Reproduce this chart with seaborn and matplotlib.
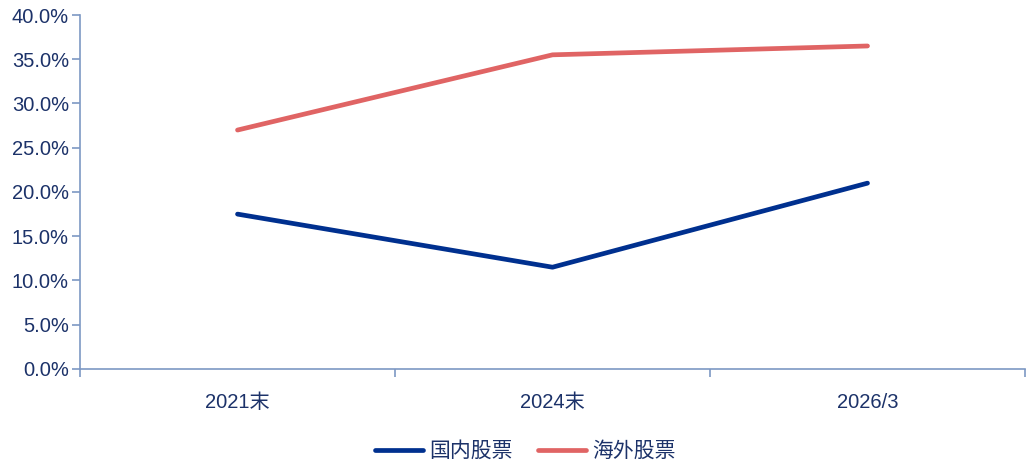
import matplotlib
matplotlib.use("Agg")
import matplotlib.pyplot as plt
import seaborn as sns
import pandas as pd
from matplotlib.ticker import FixedLocator, PercentFormatter

# data
periods = ["2021末", "2024末", "2026/3"]
domestic = [17.5, 11.5, 21.0]
overseas = [27.0, 35.5, 36.5]
series_names = ["国内股票", "海外股票"]

df = pd.DataFrame({
    "period": periods * 2,
    "value": domestic + overseas,
    "series": [series_names[0]] * 3 + [series_names[1]] * 3,
})
df["x"] = df["period"].map({p: i for i, p in enumerate(periods)})

sns.set_style("white")
plt.rcParams["font.family"] = ["Liberation Sans", "Noto Sans CJK SC", "DejaVu Sans"]

text_color = "#1c3269"
axis_color = "#7d98c4"
palette = {series_names[0]: "#00308f", series_names[1]: "#e06464"}

fig = plt.figure(figsize=(10.34, 4.66), dpi=100)
ax = fig.add_axes([0.0774, 0.2082, 0.9139, 0.7596])

sns.lineplot(data=df, x="x", y="value", hue="series", palette=palette,
             linewidth=3.4, ax=ax, legend=False, solid_capstyle="round")

ax.set_xlim(-0.5, 2.5)
ax.set_ylim(0, 40)
ax.set_yticks(range(0, 41, 5))
ax.yaxis.set_major_formatter(PercentFormatter(decimals=1))
ax.set_xticks(range(len(periods)))
ax.set_xticklabels(periods)
ax.xaxis.set_minor_locator(FixedLocator([-0.5, 0.5, 1.5, 2.5]))
ax.tick_params(axis="x", which="both", bottom=True)
ax.tick_params(axis="x", which="major", length=0, pad=17, labelsize=14.5, colors=text_color)
ax.tick_params(axis="x", which="minor", length=6, width=1.2, color=axis_color, direction="out")
ax.tick_params(axis="y", left=True, length=6, width=1.2, color=axis_color, labelsize=14.5,
               labelcolor=text_color, direction="out", pad=2)
ax.set_xlabel("")
ax.set_ylabel("")

for side in ["top", "right"]:
    ax.spines[side].set_visible(False)
for side in ["left", "bottom"]:
    ax.spines[side].set_color(axis_color)
    ax.spines[side].set_linewidth(1.2)

handles = [plt.Line2D([0], [0], color=palette[s], lw=3.4, solid_capstyle="round") for s in series_names]
fig.legend(handles, series_names, loc="center", bbox_to_anchor=(0.508, 0.032), ncol=2,
           frameon=False, fontsize=15, labelcolor=text_color, handlelength=2.3,
           handletextpad=0.3, columnspacing=1.2)

fig.savefig("out.png", dpi=100)
